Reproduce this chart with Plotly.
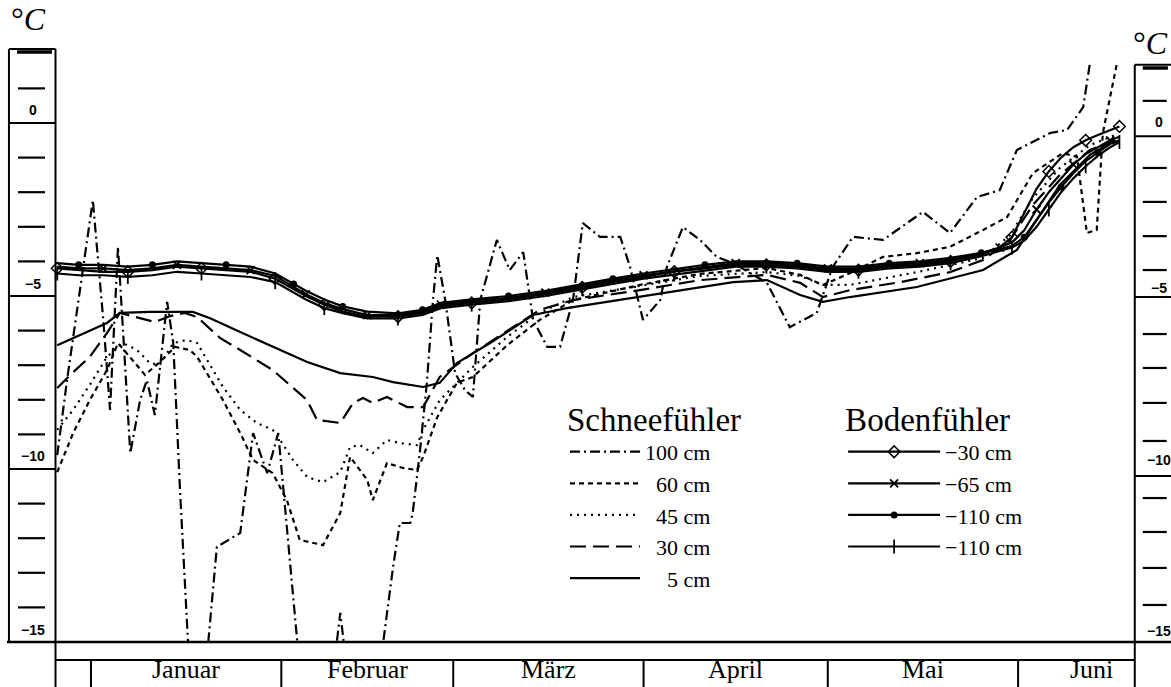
import plotly.graph_objects as go

# ---------------- data: day counted from 1 January, temperature in °C ----------------
month_names = ["Januar", "Februar", "März", "April", "Mai", "Juni"]
month_starts = [0, 31, 59, 90, 120, 151]
month_label_day = [15.5, 45, 74.5, 105, 135.5, 163]

scale_label_text = ["0", "\u22125", "\u221210", "\u221215"]
scale_boundaries = [0, -5, -10]
left_tick_values = [1, -1, -2, -3, -4, -6, -7, -8, -9, -11, -12, -13, -14]
left_label_values = [0.38, -4.64, -9.62, -14.65]
right_boundaries = [-0.38, -5.03, -10.2]
right_tick_values = [0.64, -1.3, -2.28, -3.27, -4.25, -6.1, -7.08, -8.09, -9.19,
                     -10.84, -11.82, -12.86, -13.93]
right_label_values = [0.03, -4.77, -9.74, -14.68]

# Schneefühler 100 cm
snow100_day = [-5.5, -3.9, -1.8, 0.3, 2.0, 3.1, 4.4, 5.4, 6.4, 8.0, 9.1, 10.4, 12.4, 13.4, 14.5,
               15.8, 17.4, 19.1, 20.5, 24.3, 26.4, 28.7, 30.5, 33.6, 37.0, 39.7, 40.6, 41.5, 44.6,
               47.6, 49.2, 50.3, 52.0, 52.4, 53.6, 54.7, 55.7, 56.4, 57.7, 59.3, 60.9, 62.2, 63.4,
               66.1, 68.2, 70.4, 72.0, 74.3, 76.4, 78.5, 80.1, 82.9, 86.2, 87.8, 89.9, 92.7, 93.8,
               96.4, 99.2, 101.9, 104.6, 110.1, 113.8, 118.2, 120.8, 124.1, 129.0, 135.5, 139.9,
               144.3, 148.0, 150.8, 156.2, 159.0, 161.6, 162.7]
snow100_temp = [-9.6, -7.43, -4.83, -2.23, -5.69, -8.29, -3.58, -6.56, -9.54, -8.01, -7.43, -8.44,
                -5.17, -6.36, -10.61, -15.0, -17.25, -15.0, -12.25, -11.85, -8.96, -10.12, -8.96,
                -15.0, -17.25, -15.5, -14.16, -15.5, -17.25, -15.0, -12.83, -11.56, -11.56, -11.27,
                -9.45, -7.51, -5.12, -3.82, -5.12, -7.23, -7.72, -7.92, -5.12, -3.38, -4.25, -3.73,
                -5.69, -6.47, -6.47, -5.12, -2.89, -3.29, -3.29, -4.16, -5.69, -5.12, -4.16, -3.01,
                -3.38, -3.87, -4.05, -4.62, -5.90, -5.49, -4.16, -3.29, -3.38, -2.57, -3.18, -2.14,
                -1.94, -0.78, -0.29, -0.20, 0.46, 1.73]

# Schneefühler 60 cm
snow60_day = [-5.5, -2.9, -0.2, 2.6, 4.4, 6.4, 8.8, 11.2, 13.7, 16.1, 17.3, 21.5, 24.3, 26.4, 29.6,
              31.9, 34.0, 37.8, 40.6, 42.2, 45.0, 45.9, 48.2, 50.8, 53.1, 54.1, 56.4, 59.6, 62.2,
              67.8, 73.1, 78.5, 89.4, 99.2, 110.1, 115.5, 119.2, 123.6, 129.0, 134.5, 139.9, 145.3,
              149.2, 153.4, 158.3, 160.6, 162.2, 163.8, 164.8, 167.1]
snow60_temp = [-10.09, -8.96, -8.01, -7.14, -6.36, -6.79, -7.28, -6.91, -6.47, -6.56, -6.76, -8.01,
               -8.96, -9.74, -10.12, -10.9, -12.05, -12.2, -11.27, -9.65, -10.32, -10.9, -9.83,
               -9.97, -10.03, -9.65, -8.5, -7.51, -7.34, -6.42, -5.69, -5.12, -4.68, -4.36, -4.19,
               -4.39, -4.68, -4.34, -3.87, -3.76, -3.58, -3.09, -2.72, -1.45, -0.87, -0.98, -3.18,
               -3.09, -0.29, 1.73]

# Schneefühler 45 cm
snow45_day = [-5.5, -2.9, -0.2, 2.6, 5.2, 7.5, 9.6, 11.2, 13.4, 15.6, 17.3, 19.4, 21.5, 24.3, 27.0,
              29.6, 30.8, 32.9, 35.2, 37.8, 40.6, 42.2, 43.8, 45.9, 48.2, 50.3, 53.1, 54.1, 56.8,
              62.2, 67.8, 73.1, 78.5, 88.3, 99.2, 110.1, 115.5, 119.2, 123.6, 134.5, 145.3, 149.7,
              153.4, 157.8, 162.7, 166.8]
snow45_temp = [-8.87, -8.29, -7.57, -6.76, -6.36, -6.56, -6.94, -6.99, -6.36, -6.27, -6.36, -6.99,
               -7.63, -8.29, -8.67, -8.87, -9.16, -9.74, -10.23, -10.38, -10.09, -9.36, -9.31,
               -9.54, -9.16, -9.25, -9.31, -8.87, -8.01, -7.05, -6.18, -5.49, -5.03, -4.74, -4.42,
               -4.31, -4.42, -4.68, -4.68, -4.31, -3.90, -3.24, -2.17, -1.30, -0.64, -0.35]

# Schneefühler 30 cm
snow30_day = [-5.5, -2.9, -0.2, 2.6, 4.7, 8.0, 10.4, 12.9, 15.3, 17.3, 21.0, 24.3, 29.6, 35.2, 36.8,
              40.6, 42.7, 44.3, 45.9, 48.2, 51.5, 54.1, 56.8, 62.2, 68.7, 73.1, 78.5, 89.4, 99.2,
              110.1, 115.5, 119.2, 123.6, 131.8, 139.9, 145.3, 149.7, 153.4, 157.8, 162.7, 166.8]
snow30_temp = [-7.66, -7.20, -6.76, -6.07, -5.49, -5.64, -5.75, -5.58, -5.49, -5.61, -6.21, -6.56,
               -7.14, -8.01, -8.58, -8.67, -8.09, -7.95, -8.09, -7.92, -8.21, -8.21, -7.34, -6.65,
               -5.90, -5.40, -5.12, -4.83, -4.54, -4.39, -4.62, -5.03, -4.83, -4.60, -4.31, -3.96,
               -3.38, -2.37, -1.50, -0.78, -0.49]

# Schneefühler 5 cm
snow5_day = [-5.5, -1.8, 2.6, 4.7, 9.6, 16.6, 19.4, 24.3, 29.6, 35.2, 40.6, 45.9, 49.2, 54.1, 56.8,
             59.6, 65.0, 72.0, 77.5, 82.9, 93.8, 104.6, 110.1, 115.5, 119.2, 123.6, 134.5, 145.3,
             150.8, 154.6, 157.8, 162.7, 166.8]
snow5_temp = [-6.42, -6.13, -5.78, -5.49, -5.46, -5.46, -5.64, -6.04, -6.47, -6.91, -7.23, -7.34,
              -7.49, -7.63, -7.51, -6.94, -6.36, -5.55, -5.35, -5.20, -4.91, -4.60, -4.54, -4.97,
              -5.17, -5.03, -4.74, -4.25, -3.67, -2.66, -1.79, -0.92, -0.49]

# Bodenfühler (common measurement days)
soil_day = [-5.5, -2, 2, 6, 10, 14, 18, 22, 26, 30, 33, 35, 38, 41, 45, 50, 54, 57, 62, 68, 74, 80,
            85, 90, 95, 100, 105, 110, 115, 120, 125, 130, 135, 140, 145, 148, 150, 152, 154, 156,
            158, 160, 162, 164, 166, 167.5]
soil30_temp = [-4.2, -4.25, -4.3, -4.3, -4.25, -4.15, -4.2, -4.25, -4.3, -4.5, -4.8, -5.0, -5.25,
               -5.45, -5.6, -5.6, -5.5, -5.3, -5.2, -5.1, -4.95, -4.75, -4.6, -4.45, -4.3, -4.2,
               -4.1, -4.1, -4.15, -4.25, -4.25, -4.15, -4.1, -4.0, -3.8, -3.6, -3.3, -2.6, -1.9,
               -1.4, -1.0, -0.7, -0.5, -0.35, -0.2, -0.1]
soil65_temp = [-4.15, -4.2, -4.2, -4.25, -4.2, -4.1, -4.15, -4.2, -4.25, -4.42, -4.75, -4.95, -5.2,
               -5.38, -5.55, -5.55, -5.45, -5.25, -5.15, -5.05, -4.9, -4.7, -4.55, -4.4, -4.28,
               -4.15, -4.05, -4.05, -4.1, -4.2, -4.2, -4.1, -4.05, -3.95, -3.76, -3.6, -3.45, -3.1,
               -2.5, -2.0, -1.6, -1.2, -0.9, -0.7, -0.5, -0.4]
soil110a_temp = [-4.05, -4.1, -4.1, -4.15, -4.1, -4.0, -4.05, -4.1, -4.15, -4.35, -4.65, -4.85,
                 -5.1, -5.3, -5.45, -5.5, -5.4, -5.2, -5.1, -5.0, -4.85, -4.65, -4.5, -4.35, -4.22,
                 -4.1, -4.0, -4.0, -4.05, -4.15, -4.15, -4.05, -4.0, -3.9, -3.75, -3.65, -3.55,
                 -3.3, -2.8, -2.3, -1.85, -1.45, -1.1, -0.85, -0.6, -0.5]
soil110b_temp = [-4.35, -4.4, -4.4, -4.45, -4.4, -4.3, -4.35, -4.4, -4.45, -4.6, -4.9, -5.1, -5.35,
                 -5.5, -5.65, -5.65, -5.55, -5.35, -5.25, -5.15, -5.0, -4.8, -4.65, -4.5, -4.38,
                 -4.25, -4.15, -4.15, -4.2, -4.3, -4.3, -4.2, -4.15, -4.05, -3.85, -3.7, -3.6, -3.4,
                 -3.0, -2.5, -2.0, -1.6, -1.25, -0.95, -0.7, -0.55]

snow_names = ["100 cm", "\u200760 cm", "\u200745 cm", "\u200730 cm", "\u2007\u20075 cm"]
soil_names = ["\u221230 cm", "\u221265 cm", "\u2212110 cm", "\u2212110 cm"]

# ---------------- styling / layout constants ----------------
SERIF = "Liberation Serif"
SANS = "Liberation Sans"
INK = "black"
X_RANGE = [-14.82, 175.9]
Y_RANGE = [-15.0, 3.555]
L_OUT, L_IN, L_TOP = -13.36, -5.78, 2.14
R_IN, R_TOP = 170.0, 1.68

fig = go.Figure()

snow_dash = ["10px,4px,2px,4px", "5px,4px", "2px,5px", "16px,7px", "solid"]
snow_data = [(snow100_day, snow100_temp), (snow60_day, snow60_temp), (snow45_day, snow45_temp),
             (snow30_day, snow30_temp), (snow5_day, snow5_temp)]
for name, (xs, ys), dash in zip(snow_names, snow_data, snow_dash):
    fig.add_trace(go.Scatter(x=xs, y=ys, mode="lines", name=name, legend="legend",
                             line=dict(color=INK, width=2.2, dash=dash)))

soil_temps = [soil30_temp, soil65_temp, soil110a_temp, soil110b_temp]
soil_markers = [dict(symbol="diamond-open", size=9, color=INK, line=dict(width=1.5, color=INK)),
                dict(symbol="x-thin-open", size=8, color=INK, line=dict(width=1.8, color=INK)),
                dict(symbol="circle", size=7, color=INK, line=dict(width=0, color=INK)),
                dict(symbol="line-ns-open", size=10, color=INK, line=dict(width=1.8, color=INK))]
for name, ys, mk in zip(soil_names, soil_temps, soil_markers):
    mk = dict(mk, maxdisplayed=16)
    fig.add_trace(go.Scatter(x=soil_day, y=ys, mode="lines+markers", name=name, legend="legend2",
                             line=dict(color=INK, width=2.2), marker=mk))

shapes = []


def seg(x0, y0, x1, y1, yref="y", w=2.0):
    shapes.append(dict(type="line", xref="x", yref=yref, x0=x0, y0=y0, x1=x1, y1=y1,
                       line=dict(color=INK, width=w)))


# left scale box
seg(L_OUT, -15, L_OUT, L_TOP)
seg(L_OUT, L_TOP, L_IN, L_TOP)
seg(L_IN, L_TOP, L_IN, -15)
for b in scale_boundaries:
    seg(L_OUT, b, L_IN, b)
seg(-12.05, 2.05, -6.35, 2.05, w=3.5)
for t in left_tick_values:
    seg(-11.89, t, -7.49, t, w=2.2)

# right scale box
seg(R_IN, R_TOP, R_IN, -15)
seg(R_IN, R_TOP, 177, R_TOP)
seg(171.3, 1.59, 175.4, 1.59, w=3.5)
for b in right_boundaries:
    seg(R_IN, b, 177, b)
for t in right_tick_values:
    seg(171.3, t, 175.2, t, w=2.2)

# bottom frame and month strip
seg(-13.68, 0, 177, 0, yref="paper", w=2.5)
seg(L_IN, 0, L_IN, -0.09, yref="paper")
seg(R_IN, 0, R_IN, -0.09, yref="paper")
seg(L_IN, -0.028, R_IN, -0.028, yref="paper")
for m in month_starts:
    seg(m, -0.028, m, -0.09, yref="paper")

annotations = []
for txt, yv in zip(scale_label_text, left_label_values):
    annotations.append(dict(x=-9.45, y=yv, xref="x", yref="y", text="<b>%s</b>" % txt,
                            showarrow=False, font=dict(family=SANS, size=14, color=INK)))
for txt, yv in zip(scale_label_text, right_label_values):
    annotations.append(dict(x=173.9, y=yv, xref="x", yref="y", text="<b>%s</b>" % txt,
                            showarrow=False, font=dict(family=SANS, size=14, color=INK)))
for txt, xv in zip(month_names, month_label_day):
    annotations.append(dict(x=xv, y=-0.0435, xref="x", yref="paper", yanchor="middle",
                            text=txt, showarrow=False,
                            font=dict(family=SERIF, size=26, color=INK)))
annotations.append(dict(x=-10.2, y=3.0, xref="x", yref="y", text="°<i>C</i>", showarrow=False,
                        font=dict(family=SERIF, size=32, color=INK)))
annotations.append(dict(x=175.75, y=2.3, xref="x", yref="y", xanchor="right", text="°<i>C</i>",
                        showarrow=False, font=dict(family=SERIF, size=32, color=INK)))

fig.update_layout(
    width=1171, height=687,
    margin=dict(l=0, r=0, t=0, b=45),
    paper_bgcolor="white", plot_bgcolor="white",
    xaxis=dict(range=X_RANGE, visible=False, fixedrange=True),
    yaxis=dict(range=Y_RANGE, visible=False, fixedrange=True),
    showlegend=True,
    shapes=shapes,
    annotations=annotations,
    legend=dict(x=0.4825, y=0.3956, xanchor="left", yanchor="top", bgcolor="rgba(0,0,0,0)",
                itemwidth=70, tracegroupgap=0,
                font=dict(family=SERIF, size=22, color=INK),
                title=dict(text="Schneefühler", font=dict(family=SERIF, size=33, color=INK))),
    legend2=dict(x=0.72, y=0.3956, xanchor="left", yanchor="top", bgcolor="rgba(0,0,0,0)",
                 itemwidth=92, tracegroupgap=0,
                 font=dict(family=SERIF, size=22, color=INK),
                 title=dict(text="Bodenfühler", font=dict(family=SERIF, size=33, color=INK))),
)

fig.write_html("out.html", config={"displayModeBar": False},
               post_script="document.body.style.margin='0';")
